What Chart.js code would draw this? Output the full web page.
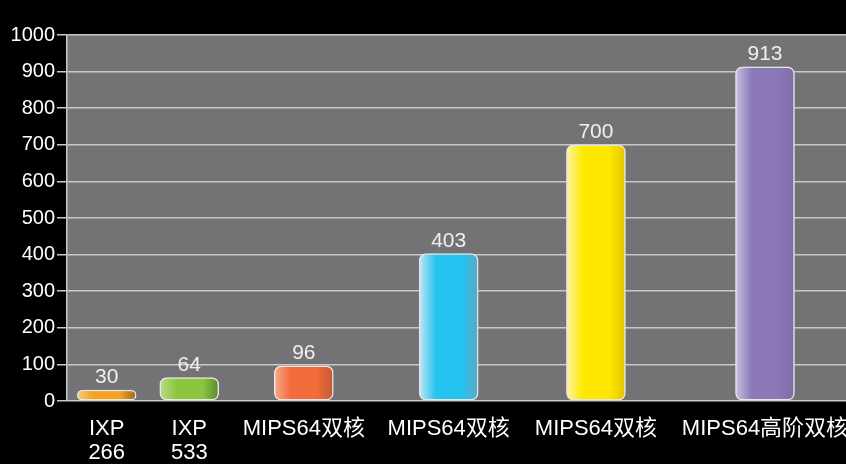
<!DOCTYPE html>
<html>
<head>
<meta charset="utf-8">
<script src="https://cdn.jsdelivr.net/npm/chart.js@4/dist/chart.umd.min.js"></script>
<style>
  html, body { margin: 0; padding: 0; background: #000; }
  #wrap { width: 846px; height: 464px; }
</style>
</head>
<body>
<div id="wrap"><canvas id="c" width="846" height="464"></canvas></div>
<script>
'use strict';

// ── Data ─────────────────────────────────────────────────────────────────────
const categories = [['IXP', '266'], ['IXP', '533'], 'MIPS64双核', 'MIPS64双核', 'MIPS64双核', 'MIPS64高阶双核'];
const values = [30, 64, 96, 403, 700, 913];
const yTicks = [0, 100, 200, 300, 400, 500, 600, 700, 800, 900, 1000];

// ── Layout / style (not data) ────────────────────────────────────────────────
// category centres along a 0..10 horizontal scale (the original spacing is uneven)
const CAT_POS = [0.51, 1.57, 3.04, 4.90, 6.79, 8.96];
const BAR_W = 59;
const BAR_COLORS = [
  ['#f9c978', '#f6a21c', '#9a6a22'],
  ['#b8dc8a', '#8cc63f', '#5d8a34'],
  ['#f7a98c', '#f26b3a', '#c25a34'],
  ['#c2e6f3', '#25c3ef', '#5aa8c2'],
  ['#fff4a8', '#ffe800', '#e3c400'],
  ['#cabfe0', '#8a78b8', '#7e6ca8'],
];
const FONT = "'Liberation Sans', 'Noto Sans CJK SC', Arial, sans-serif";

function barFill(ctx) {
  const chart = ctx.chart;
  const i = ctx.dataIndex;
  const cols = BAR_COLORS[i] || BAR_COLORS[0];
  const xs = chart.scales && chart.scales.x;
  if (!xs || i === undefined) return cols[1];
  const cx = xs.getPixelForValue(CAT_POS[i]);
  if (!isFinite(cx)) return cols[1];
  const g = chart.ctx.createLinearGradient(cx - BAR_W / 2, 0, cx + BAR_W / 2, 0);
  g.addColorStop(0, cols[0]);
  g.addColorStop(0.28, cols[1]);
  g.addColorStop(0.72, cols[1]);
  g.addColorStop(1, cols[2]);
  return g;
}

const plotBg = {
  id: 'plotBg',
  beforeDraw(chart) {
    const { ctx, chartArea: a } = chart;
    ctx.save();
    ctx.fillStyle = '#737375';
    ctx.fillRect(a.left, a.top, a.right - a.left, a.bottom - a.top);
    ctx.restore();
  }
};

const valueLabels = {
  id: 'valueLabels',
  afterDatasetsDraw(chart) {
    const { ctx } = chart;
    const meta = chart.getDatasetMeta(0);
    ctx.save();
    ctx.fillStyle = '#f0f0f0';
    ctx.font = '21px ' + FONT;
    ctx.textAlign = 'center';
    ctx.textBaseline = 'bottom';
    meta.data.forEach((el, i) => {
      ctx.fillText(String(values[i]), el.x, el.y - 2);
    });
    ctx.restore();
  }
};

new Chart(document.getElementById('c'), {
  type: 'bar',
  data: {
    datasets: [{
      data: values.map((v, i) => ({ x: CAT_POS[i], y: v })),
      backgroundColor: barFill,
      borderColor: '#e6e6e6',
      borderWidth: 1.5,
      borderRadius: 7,
      borderSkipped: false,
      barThickness: BAR_W,
    }],
  },
  options: {
    responsive: false,
    animation: false,
    layout: { padding: { top: 35, right: 0, left: 0, bottom: 0 } },
    plugins: { legend: { display: false }, tooltip: { enabled: false } },
    scales: {
      x: {
        type: 'linear',
        offset: false,
        min: 0,
        max: 10,
        afterBuildTicks: s => { s.ticks = CAT_POS.map(v => ({ value: v })); },
        afterFit: s => { s.height = 63; s.paddingLeft = 0; s.paddingRight = 0; },
        ticks: {
          autoSkip: false,
          maxRotation: 0,
          padding: 16,
          color: '#ffffff',
          font: { size: 22, family: FONT, lineHeight: 1.1 },
          callback: (v, i) => categories[i],
        },
        grid: { display: false, drawTicks: false },
        border: { display: false },
      },
      y: {
        min: 0,
        max: 1000,
        afterBuildTicks: s => { s.ticks = yTicks.map(v => ({ value: v })); },
        afterFit: s => { s.width = 67; },
        ticks: {
          padding: 2,
          color: '#ffffff',
          font: { size: 20, family: FONT },
          callback: v => String(v),
        },
        grid: { color: '#c9c9c9', lineWidth: 1.5, tickLength: 10, tickColor: '#c9c9c9' },
        border: { color: '#c9c9c9', width: 1.5 },
      },
    },
  },
  plugins: [plotBg, valueLabels],
});
</script>
</body>
</html>
